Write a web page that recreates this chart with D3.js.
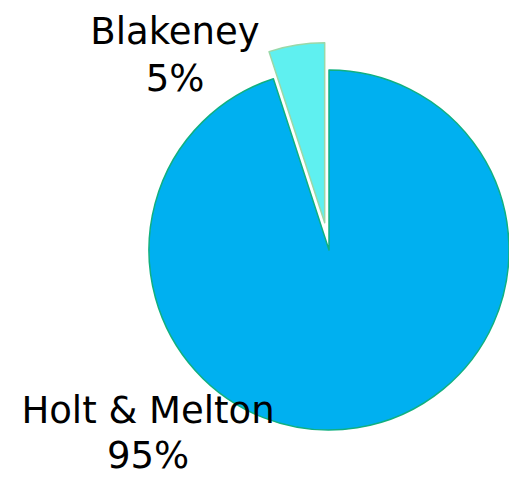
<!DOCTYPE html>
<html><head><meta charset="utf-8">
<script src="https://cdn.jsdelivr.net/npm/d3@7"></script>
<style>body{margin:0;background:#fff}svg{display:block}</style>
</head><body>
<script>
const categories = ["Holt & Melton", "Blakeney"];
const values = [95, 5];
const percentLabels = ["95%", "5%"];
const fills = ["#00B0F0", "#5FF0F0"];
const strokes = ["#10B080", "#9AD8A8"];

const W = 509, H = 477;
const cx = 329, cy = 250, r = 180, explode = [0, 27.5];
const labelPos = [[148, 423], [175, 44]];
const lineGap = [45, 47];

const svg = d3.select("body").append("svg").attr("width", W).attr("height", H);
const pie = d3.pie().sort(null).value(d => d)(values);
const arc = d3.arc().innerRadius(0).outerRadius(r);
const g = svg.append("g").attr("transform", `translate(${cx},${cy})`);

g.selectAll("path").data(pie).join("path")
  .attr("d", arc)
  .attr("transform", (d, i) => {
    const a = (d.startAngle + d.endAngle) / 2;
    return `translate(${Math.sin(a) * explode[i]},${-Math.cos(a) * explode[i]})`;
  })
  .attr("fill", (d, i) => fills[i])
  .attr("stroke", (d, i) => strokes[i])
  .attr("stroke-width", 1.5)
  .attr("stroke-linejoin", "round");

function label(x, y, s) {
  svg.append("text")
    .attr("x", x).attr("y", y)
    .attr("text-anchor", "middle")
    .attr("font-family", "'DejaVu Sans', sans-serif")
    .attr("font-size", 37).attr("fill", "#000")
    .text(s);
}
categories.forEach((c, i) => {
  label(labelPos[i][0], labelPos[i][1], c);
  label(labelPos[i][0], labelPos[i][1] + lineGap[i], percentLabels[i]);
});
</script>
</body></html>
